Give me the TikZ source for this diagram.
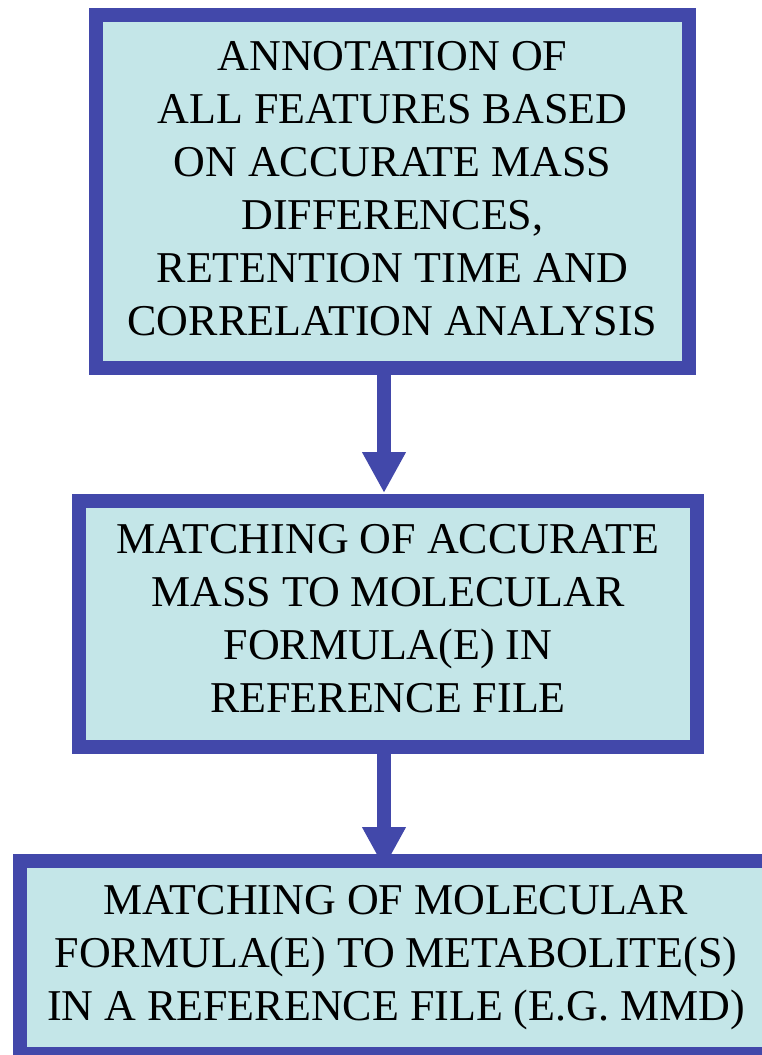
\documentclass[tikz,border=0pt]{standalone}
\usepackage{fontspec}
\setmainfont{Liberation Serif}
\usetikzlibrary{arrows.meta}
\definecolor{boxblue}{RGB}{66,72,170}
\definecolor{boxfill}{RGB}{196,230,232}
\begin{document}
\begin{tikzpicture}[x=1pt,y=-1pt,
  flowbox/.style={draw=boxblue,fill=boxfill,line width=14pt,align=center,
    inner sep=0pt,font=\fontsize{44}{53}\selectfont},
  flowarrow/.style={draw=boxblue,line width=14pt,
    -{Triangle[width=41pt,length=41pt]}}]
\useasboundingbox (0,0) rectangle (762,1055);
\clip (0,0) rectangle (762,1055);
\node[flowbox,minimum width=593pt,minimum height=353pt] (b1) at (392.5,191.5)
  {ANNOTATION OF\\ALL FEATURES BASED\\ON ACCURATE MASS\\DIFFERENCES,\\RETENTION TIME AND\\CORRELATION ANALYSIS\rule[-7pt]{0pt}{7pt}};
\node[flowbox,minimum width=618pt,minimum height=246pt] (b2) at (388,624)
  {MATCHING OF ACCURATE\\MASS TO MOLECULAR\\FORMULA(E) IN\\REFERENCE FILE\rule[-11pt]{0pt}{11pt}};
\node[flowbox,minimum width=752pt,minimum height=193pt] (b3) at (396,957.5)
  {MATCHING OF MOLECULAR\\FORMULA(E) TO METABOLITE(S)\\IN A REFERENCE FILE (E.G. MMD)\rule[-8pt]{0pt}{8pt}};
\draw[flowarrow,shorten >=1pt] ([xshift=-8.5pt]b1.south) -- ([xshift=-4pt]b2.north);
\draw[flowarrow,shorten >=-14pt] ([xshift=-4pt]b2.south) -- ([xshift=-12pt]b3.north);
\end{tikzpicture}
\end{document}
